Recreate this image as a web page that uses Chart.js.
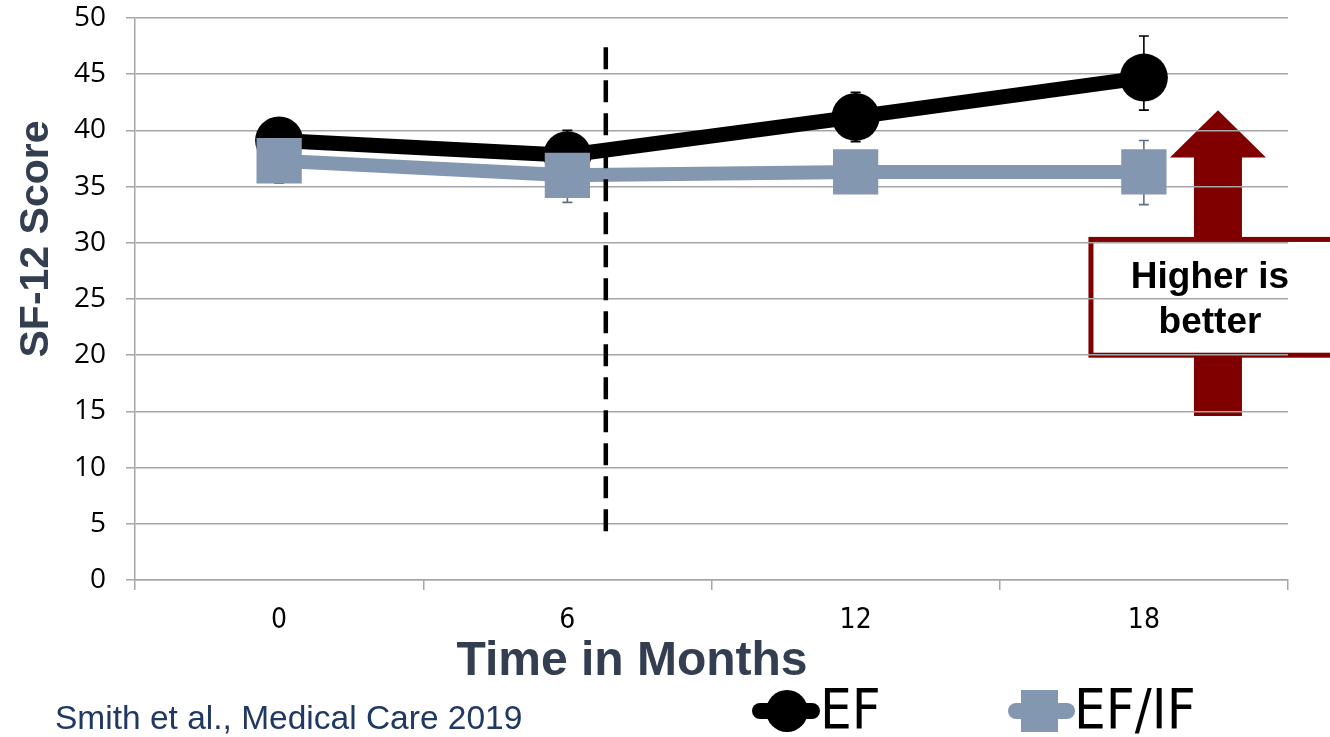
<!DOCTYPE html>
<html>
<head>
<meta charset="utf-8">
<script src="https://cdn.jsdelivr.net/npm/chart.js@4.4.1/dist/chart.umd.min.js"></script>
<style>
html,body{margin:0;padding:0;background:#fff;}
#wrap{width:1330px;height:737px;position:relative;}
</style>
</head>
<body>
<div id="wrap"><canvas id="c" width="1330" height="737"></canvas></div>
<script>
// ---- data ----
const months = ['0', '6', '12', '18'];
const efValues = [39.1, 37.8, 41.2, 44.7];
const efLow = [37.6, 35.6, 39.0, 41.8];
const efHigh = [40.5, 40.0, 43.4, 48.4];
const efifValues = [37.3, 36.0, 36.3, 36.3];
const efifLow = [35.3, 33.6, 34.6, 33.4];
const efifHigh = [39.3, 38.4, 38.0, 39.1];
const yTicks = [0, 5, 10, 15, 20, 25, 30, 35, 40, 45, 50];
const seriesNames = ['EF', 'EF/IF'];
const interventionMonth = 6.8; // dashed marker between 6 and 12

const EF_COLOR = '#000000';
const EFIF_COLOR = '#8497b0';
const TITLE_COLOR = '#333f50';
const ARROW_COLOR = '#800000';
const NARROW = '"Liberation Sans Narrow","DejaVu Sans Condensed","Roboto Condensed",Arial,sans-serif';

const errBars = {
  id: 'errBars',
  beforeDatasetsDraw(chart) {
    const ctx = chart.ctx, x = chart.scales.x, y = chart.scales.y;
    const sets = [[efLow, efHigh, '#000000'], [efifLow, efifHigh, '#5f6f82']];
    ctx.save();
    ctx.lineWidth = 1.6;
    sets.forEach(([lo, hi, col]) => {
      ctx.strokeStyle = col;
      lo.forEach((l, i) => {
        const px = x.getPixelForValue(i);
        const y1 = y.getPixelForValue(l), y2 = y.getPixelForValue(hi[i]);
        ctx.beginPath();
        ctx.moveTo(px, y1); ctx.lineTo(px, y2);
        ctx.moveTo(px - 5, y1); ctx.lineTo(px + 5, y1);
        ctx.moveTo(px - 5, y2); ctx.lineTo(px + 5, y2);
        ctx.stroke();
      });
    });
    ctx.restore();
  }
};

const decor = {
  id: 'decor',
  beforeDraw(chart) {
    const ctx = chart.ctx, x = chart.scales.x, y = chart.scales.y;
    const step = x.getPixelForValue(1) - x.getPixelForValue(0);
    const cx = x.getPixelForValue(3) + step * 0.257;
    ctx.save();
    ctx.fillStyle = '#fff';
    ctx.fillRect(0, 0, chart.width, chart.height);
    // arrow
    const tip = y.getPixelForValue(41.8), base = y.getPixelForValue(37.6), bot = y.getPixelForValue(14.6);
    const sw = 24, hw = 48;
    ctx.fillStyle = ARROW_COLOR;
    ctx.beginPath();
    ctx.moveTo(cx, tip);
    ctx.lineTo(cx + hw, base);
    ctx.lineTo(cx + sw, base);
    ctx.lineTo(cx + sw, bot);
    ctx.lineTo(cx - sw, bot);
    ctx.lineTo(cx - sw, base);
    ctx.lineTo(cx - hw, base);
    ctx.closePath();
    ctx.fill();
    // box
    const bt = y.getPixelForValue(30.3), bb = y.getPixelForValue(20.0);
    const bl = cx - 127;
    ctx.fillStyle = '#fff';
    ctx.fillRect(bl, bt, 300, bb - bt);
    ctx.strokeStyle = ARROW_COLOR;
    ctx.lineWidth = 5;
    ctx.strokeRect(bl, bt, 300, bb - bt);
    ctx.fillStyle = '#000';
    ctx.font = 'bold 37px "Liberation Sans", Arial, sans-serif';
    ctx.textAlign = 'center';
    ctx.textBaseline = 'middle';
    ctx.fillText('Higher is', cx - 8, y.getPixelForValue(26.9));
    ctx.fillText('better', cx - 8, y.getPixelForValue(22.9));
    ctx.restore();
  },
  afterDraw(chart) {
    const ctx = chart.ctx, x = chart.scales.x, y = chart.scales.y;
    const step = x.getPixelForValue(1) - x.getPixelForValue(0);
    ctx.save();
    // dashed intervention line
    const dx = x.getPixelForValue(0) + step * interventionMonth / 6;
    ctx.strokeStyle = '#000';
    ctx.lineWidth = 4.5;
    ctx.setLineDash([22, 11]);
    ctx.beginPath();
    ctx.moveTo(dx, y.getPixelForValue(47.4));
    ctx.lineTo(dx, y.getPixelForValue(3.8));
    ctx.stroke();
    ctx.setLineDash([]);
    // axis titles
    ctx.fillStyle = TITLE_COLOR;
    ctx.font = 'bold 48px "Liberation Sans", Arial, sans-serif';
    ctx.textAlign = 'center';
    ctx.textBaseline = 'middle';
    ctx.fillText('Time in Months', 632, 662);
    ctx.save();
    ctx.translate(37, 239);
    ctx.rotate(-Math.PI / 2);
    ctx.font = 'bold 41px "Liberation Sans", Arial, sans-serif';
    ctx.fillText('SF-12 Score', 0, 0);
    ctx.restore();
    // source
    ctx.fillStyle = '#1f3864';
    ctx.font = '33.5px "Liberation Sans", Arial, sans-serif';
    ctx.textAlign = 'left';
    ctx.fillText('Smith et al., Medical Care 2019', 55, 720);
    // legend
    const ly = 711;
    ctx.lineCap = 'round';
    ctx.strokeStyle = EF_COLOR; ctx.lineWidth = 16;
    ctx.beginPath(); ctx.moveTo(760, ly); ctx.lineTo(812, ly); ctx.stroke();
    ctx.fillStyle = EF_COLOR;
    ctx.beginPath(); ctx.arc(787, ly, 21, 0, Math.PI * 2); ctx.fill();
    ctx.strokeStyle = EFIF_COLOR; ctx.lineWidth = 16;
    ctx.beginPath(); ctx.moveTo(1016, ly); ctx.lineTo(1067, ly); ctx.stroke();
    ctx.fillStyle = EFIF_COLOR;
    ctx.fillRect(1021, ly - 21, 37, 42);
    ctx.fillStyle = '#000';
    ctx.font = '56px ' + NARROW;
    ctx.textBaseline = 'middle';
    ctx.fillText(seriesNames[0], 820, ly + 2);
    ctx.fillText(seriesNames[1], 1074, ly + 2);
    ctx.restore();
  }
};

new Chart(document.getElementById('c'), {
  type: 'line',
  data: {
    labels: months,
    datasets: [
      {
        label: seriesNames[0], data: efValues, order: 1,
        borderColor: EF_COLOR, backgroundColor: EF_COLOR, borderWidth: 15,
        pointStyle: 'circle', pointRadius: 24, pointHoverRadius: 24,
        pointBorderWidth: 0, tension: 0
      },
      {
        label: seriesNames[1], data: efifValues, order: 0,
        borderColor: EFIF_COLOR, backgroundColor: EFIF_COLOR, borderWidth: 14,
        pointStyle: 'rect', pointRadius: 32, pointHoverRadius: 32,
        pointBorderWidth: 0, tension: 0
      }
    ]
  },
  options: {
    responsive: false,
    animation: false,
    events: [],
    layout: { autoPadding: false, padding: { left: 0, right: 42, top: 18, bottom: 0 } },
    plugins: { legend: { display: false }, tooltip: { enabled: false } },
    scales: {
      x: {
        type: 'category',
        offset: true,
        afterFit(s) { s.height = 157; s.paddingLeft = 0; s.paddingRight = 0; },
        grid: { drawOnChartArea: false, offset: true, tickLength: 10, color: '#a6a6a6', lineWidth: 1.5 },
        border: { color: '#a6a6a6', width: 1.5 },
        ticks: { color: '#000', padding: 14, font: { size: 28, family: NARROW } }
      },
      y: {
        min: 0, max: 50,
        afterFit(s) { s.width = 135; s.paddingTop = 0; s.paddingBottom = 0; },
        afterBuildTicks(s) { s.ticks = yTicks.map(v => ({ value: v })); },
        grid: { color: '#a6a6a6', lineWidth: 1.5, tickLength: 9 },
        border: { color: '#a6a6a6', width: 1.5 },
        ticks: { color: '#000', padding: 20, font: { size: 28, family: '"Open Sans", "Liberation Sans", sans-serif' } }
      }
    }
  },
  plugins: [decor, errBars]
});
</script>
</body>
</html>
